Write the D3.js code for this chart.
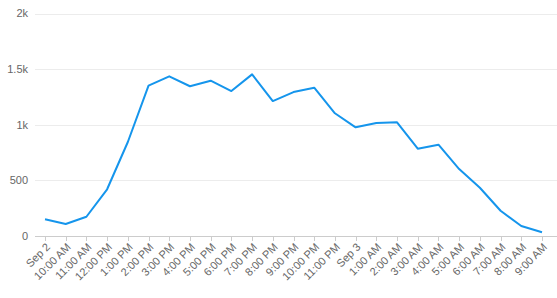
<!DOCTYPE html>
<html>
<head>
<meta charset="utf-8">
<script src="https://d3js.org/d3.v7.min.js"></script>
<style>
  body { margin: 0; background: #fff; }
  text { font-family: "Liberation Sans", Arial, sans-serif; }
</style>
</head>
<body>
<div id="chart"></div>
<script>
/* chart data */
var timeLabels = ["Sep 2", "10:00 AM", "11:00 AM", "12:00 PM", "1:00 PM", "2:00 PM", "3:00 PM",
  "4:00 PM", "5:00 PM", "6:00 PM", "7:00 PM", "8:00 PM", "9:00 PM", "10:00 PM", "11:00 PM",
  "Sep 3", "1:00 AM", "2:00 AM", "3:00 AM", "4:00 AM", "5:00 AM", "6:00 AM", "7:00 AM",
  "8:00 AM", "9:00 AM"];
var counts = [150, 108, 173, 420, 845, 1351, 1435, 1346, 1396, 1303, 1453, 1213, 1294, 1333,
  1103, 977, 1016, 1022, 785, 821, 602, 434, 227, 90, 33];
var yTicks = [0, 500, 1000, 1500, 2000];
var yTickLabels = ["0", "500", "1k", "1.5k", "2k"];

var totalWidth = 557, totalHeight = 298;

var svg = d3.select("#chart").append("svg")
    .attr("width", totalWidth)
    .attr("height", totalHeight);

var x = d3.scalePoint()
    .domain(timeLabels)
    .range([45, 542]);

var y = d3.scaleLinear()
    .domain([0, 2000])
    .range([236, 13.5]);

/* grid lines */
svg.append("g").selectAll("line")
    .data(yTicks.slice(1))
    .enter().append("line")
    .attr("x1", 35).attr("x2", 557)
    .attr("y1", function(d){ return Math.round(y(d)) + 0.5; })
    .attr("y2", function(d){ return Math.round(y(d)) + 0.5; })
    .style("stroke", "#ececec")
    .style("stroke-width", 1);

/* y labels */
svg.append("g").selectAll("text")
    .data(yTicks)
    .enter().append("text")
    .attr("x", 28)
    .attr("y", function(d){ return y(d); })
    .attr("dy", "0.35em")
    .attr("text-anchor", "end")
    .style("font-size", "11px")
    .style("fill", "#666")
    .text(function(d, i){ return yTickLabels[i]; });

/* x axis line and ticks */
svg.append("line")
    .attr("x1", 35).attr("x2", 557)
    .attr("y1", 236.5).attr("y2", 236.5)
    .style("stroke", "#ccc");

svg.append("g").selectAll("line")
    .data(timeLabels)
    .enter().append("line")
    .attr("x1", function(d){ return Math.round(x(d)) + 0.5; })
    .attr("x2", function(d){ return Math.round(x(d)) + 0.5; })
    .attr("y1", 236).attr("y2", 241)
    .style("stroke", "#ccc");

svg.append("g").selectAll("text")
    .data(timeLabels)
    .enter().append("text")
    .attr("transform", function(d){ return "translate(" + (x(d) + 3) + ",245) rotate(-45)"; })
    .attr("dy", "0.35em")
    .attr("text-anchor", "end")
    .style("font-size", "11px")
    .style("fill", "#666")
    .text(function(d){ return d; });

/* line */
var line = d3.line()
    .x(function(d, i){ return x(timeLabels[i]); })
    .y(function(d){ return y(d); });

svg.append("path")
    .datum(counts)
    .attr("d", line)
    .style("fill", "none")
    .style("stroke", "#1595ec")
    .style("stroke-width", 2)
    .style("stroke-linejoin", "round");
</script>
</body>
</html>
